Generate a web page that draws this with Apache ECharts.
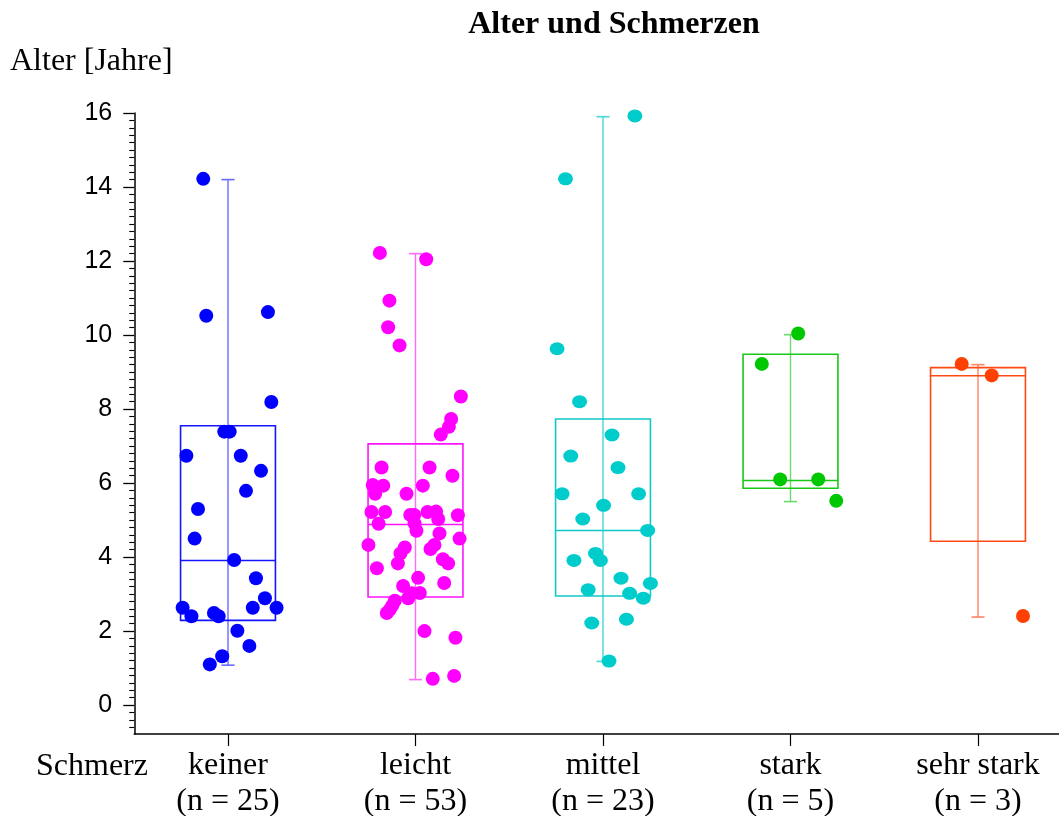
<!DOCTYPE html>
<html><head><meta charset="utf-8">
<script src="https://cdn.jsdelivr.net/npm/echarts@6/dist/echarts.min.js"></script>
<style>html,body{margin:0;padding:0;background:#fff}#c{width:1059px;height:816px}</style>
</head><body><div id="c"></div>
<script>
// ---- data ----
const categories = ['keiner', 'leicht', 'mittel', 'stark', 'sehr stark'];
const nLabels = ['(n = 25)', '(n = 53)', '(n = 23)', '(n = 5)', '(n = 3)'];
const yTicks = [0, 2, 4, 6, 8, 10, 12, 14, 16];

const keinerAge = [14.22, 10.52, 10.62, 8.19, 7.39, 7.39, 6.74, 6.74, 6.33, 5.79, 5.30, 4.50, 3.92, 3.43, 2.89, 2.63, 2.63, 2.63, 2.40, 2.49, 2.40, 2.01, 1.60, 1.32, 1.10];
const keinerJitter = [-0.132, -0.116, 0.213, 0.231, -0.020, 0.009, -0.222, 0.068, 0.176, 0.096, -0.160, -0.178, 0.033, 0.149, 0.197, -0.242, 0.132, 0.259, -0.195, -0.075, -0.050, 0.050, 0.114, -0.031, -0.097];

const leichtAge = [12.22, 12.05, 10.93, 10.21, 9.72, 8.34, 7.73, 7.52, 7.31, 6.42,
  6.42, 6.20, 5.95, 5.93, 5.71, 5.93, 5.71, 5.22, 5.22, 5.14,
  5.14, 5.22, 5.23, 5.03, 5.13, 4.90, 4.91, 4.71, 4.64, 4.33,
  4.50, 4.26, 4.10, 3.83, 4.33, 4.22, 3.94, 3.83, 3.70, 3.44,
  3.30, 3.22, 3.02, 3.03, 2.89, 2.82, 2.69, 2.58, 2.49, 2.00,
  1.82, 0.71, 0.79];
const leichtJitter = [-0.190, 0.057, -0.139, -0.146, -0.085, 0.242, 0.190, 0.178, 0.135, -0.181,
  0.075, 0.197, -0.228, -0.172, -0.215, 0.039, -0.048, -0.235, -0.162, -0.028,
  -0.007, 0.064, 0.110, 0.121, 0.226, -0.197, -0.005, 0.005, 0.128, -0.251,
  0.235, -0.057, -0.080, -0.094, 0.101, 0.080, 0.146, 0.174, -0.206, 0.014,
  0.153, -0.066, -0.020, 0.023, -0.039, -0.110, -0.124, -0.137, -0.153, 0.048,
  0.213, 0.092, 0.206];

const mittelAge = [15.92, 14.22, 9.63, 8.20, 7.30, 6.73, 6.42, 5.71, 5.71, 5.40, 5.03, 4.72, 4.10, 3.91, 3.91, 3.43, 3.29, 3.12, 3.02, 2.89, 2.32, 2.22, 1.19];
const mittelJitter = [0.17, -0.20, -0.245, -0.125, 0.048, -0.172, 0.08, -0.218, 0.19, 0.003, -0.108, 0.238, -0.04, -0.014, -0.155, 0.096, 0.253, -0.079, 0.142, 0.215, 0.125, -0.06, 0.032];

const starkAge = [10.04, 9.22, 6.10, 6.10, 5.52];
const starkJitter = [0.041, -0.153, -0.055, 0.148, 0.244];

const sehrStarkAge = [9.22, 8.91, 2.41];
const sehrStarkJitter = [-0.087, 0.073, 0.24];

// box statistics: [min, q1, median, q3, max]
const keinerBox = [1.08, 2.29, 3.91, 7.55, 14.2];
const leichtBox = [0.69, 2.92, 4.88, 7.06, 12.2];
const mittelBox = [1.18, 2.95, 4.72, 7.73, 15.9];
const starkBox = [5.50, 5.86, 6.07, 9.48, 10.01];
const sehrStarkBox = [2.38, 4.43, 8.90, 9.12, 9.20];

// ---- styles ----
const pointColors = ['#0000ff', '#ff00ff', '#00cccc', '#00c800', '#ff4000'];
const boxColors = ['#1414ff', '#ff14ff', '#10c8c8', '#18c818', '#ff4a14'];
const whiskerColors = ['#6a6aff', '#ff6aff', '#48d6d6', '#6ada6a', '#ff8660'];
const pointSizes = [14, 14, [15, 13], 14, 14];

const groups = [
  { age: keinerAge, jitter: keinerJitter, box: keinerBox },
  { age: leichtAge, jitter: leichtJitter, box: leichtBox },
  { age: mittelAge, jitter: mittelJitter, box: mittelBox },
  { age: starkAge, jitter: starkJitter, box: starkBox },
  { age: sehrStarkAge, jitter: sehrStarkJitter, box: sehrStarkBox }
];

const minorTicks = [];
for (let k = -3; k <= 80; k++) { if (k % 10 !== 0) minorTicks.push(+(k / 5).toFixed(1)); }

const chart = echarts.init(document.getElementById('c'), null, { renderer: 'canvas' });

const series = [];
series.push({
  type: 'custom',
  xAxisIndex: 1, yAxisIndex: 0,
  z: 2,
  silent: true,
  encode: { x: 0, y: [1, 2, 3, 4, 5] },
  data: groups.map((g, i) => [i].concat(g.box)),
  renderItem: function (params, api) {
    const i = api.value(0);
    const mn = api.value(1), q1 = api.value(2), md = api.value(3), q3 = api.value(4), mx = api.value(5);
    const hw = 0.253, cw = 0.035;
    const pTL = api.coord([i - hw, q3]);
    const pBR = api.coord([i + hw, q1]);
    const pMin = api.coord([i, mn]);
    const pMax = api.coord([i, mx]);
    const pMed = api.coord([i, md]);
    const cL = api.coord([i - cw, 0])[0], cR = api.coord([i + cw, 0])[0];
    const c = boxColors[i], w = whiskerColors[i];
    return {
      type: 'group',
      children: [
        { type: 'line', shape: { x1: pMin[0], y1: pMin[1], x2: pMax[0], y2: pMax[1] }, style: { stroke: w, lineWidth: 1.4 } },
        { type: 'line', shape: { x1: cL, y1: pMin[1], x2: cR, y2: pMin[1] }, style: { stroke: w, lineWidth: 1.6 } },
        { type: 'line', shape: { x1: cL, y1: pMax[1], x2: cR, y2: pMax[1] }, style: { stroke: w, lineWidth: 1.6 } },
        { type: 'rect', shape: { x: pTL[0], y: pTL[1], width: pBR[0] - pTL[0], height: pBR[1] - pTL[1] }, style: { fill: 'none', stroke: c, lineWidth: 1.6 } },
        { type: 'line', shape: { x1: pTL[0], y1: pMed[1], x2: pBR[0], y2: pMed[1] }, style: { stroke: c, lineWidth: 1.6 } }
      ]
    };
  }
});
groups.forEach((g, i) => {
  series.push({
    type: 'scatter',
    xAxisIndex: 1, yAxisIndex: 0,
    z: 5,
    silent: true,
    symbol: 'circle',
    symbolSize: pointSizes[i],
    itemStyle: { color: pointColors[i], opacity: 1 },
    data: g.age.map((a, k) => [i + g.jitter[k], a])
  });
});

const option = {
  animation: false,
  backgroundColor: '#ffffff',
  grid: { left: 134.25, right: -12.75, top: 113, bottom: 82, containLabel: false, outerBoundsMode: 'none' },
  xAxis: [
    {
      type: 'category',
      data: categories.map((c, i) => c + '\n' + nLabels[i]),
      boundaryGap: true,
      position: 'bottom',
      axisLine: { show: true, onZero: false, lineStyle: { color: '#000', width: 1.5 } },
      axisTick: { show: true, alignWithLabel: true, length: 12, lineStyle: { color: '#000', width: 1.2 } },
      axisLabel: { interval: 0, color: '#000', fontFamily: 'Liberation Serif', fontSize: 32, lineHeight: 36, margin: 14 },
      splitLine: { show: false }
    },
    { type: 'value', min: -0.5, max: 4.5, show: false, gridIndex: 0 }
  ],
  yAxis: [
    {
      type: 'value', min: -0.78, max: 16, position: 'left',
      axisLine: { show: true, onZero: false, lineStyle: { color: '#000', width: 1.5 } },
      axisTick: { show: true, customValues: yTicks, length: 11, lineStyle: { color: '#000', width: 1.3 } },
      axisLabel: { customValues: yTicks, color: '#000', fontFamily: 'Liberation Sans', fontSize: 25, margin: 22 },
      splitLine: { show: false }
    },
    {
      type: 'value', min: -0.78, max: 16, position: 'left', offset: 0,
      axisLine: { show: false, onZero: false },
      axisTick: { show: true, customValues: minorTicks, length: 5, lineStyle: { color: '#000', width: 1.1 } },
      axisLabel: { show: false },
      splitLine: { show: false }
    }
  ],
  graphic: [
    { type: 'text', style: { text: 'Alter und Schmerzen', x: 614, y: 25, font: 'bold 32px "Liberation Serif"', fill: '#000', textAlign: 'center', textVerticalAlign: 'middle', align: 'center', verticalAlign: 'middle' } },
    { type: 'text', style: { text: 'Alter [Jahre]', x: 10, y: 62, font: '32px "Liberation Serif"', fill: '#000', textAlign: 'left', textVerticalAlign: 'middle', align: 'left', verticalAlign: 'middle' } },
    { type: 'text', style: { text: 'Schmerz', x: 36, y: 767, font: '32px "Liberation Serif"', fill: '#000', textAlign: 'left', textVerticalAlign: 'middle', align: 'left', verticalAlign: 'middle' } }
  ],
  series: series
};
chart.setOption(option);
</script>
</body></html>
